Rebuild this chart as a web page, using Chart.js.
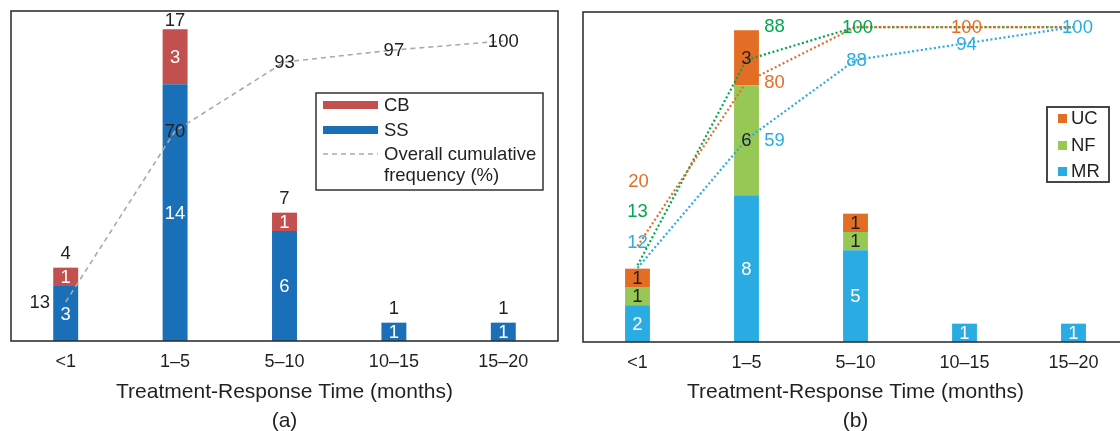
<!DOCTYPE html>
<html>
<head>
<meta charset="utf-8">
<script src="https://cdn.jsdelivr.net/npm/chart.js@4.4.1/dist/chart.umd.min.js"></script>
<style>
  html, body { margin: 0; padding: 0; background: #fff; overflow: hidden; width: 1120px; height: 431px; }
  #wrap { position: relative; width: 1120px; height: 431px; overflow: hidden; }
  #chartA { position: absolute; left: 0; top: 0; }
  #chartB { position: absolute; left: 560px; top: 0; }
</style>
</head>
<body>
<div id="wrap">
  <canvas id="chartA" width="560" height="431"></canvas>
  <canvas id="chartB" width="580" height="431"></canvas>
</div>
<script>
// Treatment-response time bins shared by both panels
const categories = ['<1', '1–5', '5–10', '10–15', '15–20'];

// Panel (a): counts per group and overall cumulative frequency (%)
const ssCounts = [3, 14, 6, 1, 1];
const cbCounts = [1, 3, 1, 0, 0];
const overallCumulative = [13, 70, 93, 97, 100];

// Panel (b): counts per group and cumulative frequency (%) per group
const mrCounts = [2, 8, 5, 1, 1];
const nfCounts = [1, 6, 1, 0, 0];
const ucCounts = [1, 3, 1, 0, 0];
const mrCumulative = [12, 59, 88, 94, 100];
const nfCumulative = [13, 88, 100, 100, 100];
const ucCumulative = [20, 80, 100, 100, 100];

const FONT = '"Liberation Sans", Arial, Helvetica, sans-serif';
const INK = '#231f20';
const COLORS = {
  SS: '#1a6fb9', CB: '#c1504e', cumulative: '#a9a9a9',
  MR: '#2aace2', NF: '#97c855', UC: '#e46d26',
  NFline: '#00a650'
};

// Outline around the plotting area
const framePlugin = {
  id: 'frame',
  afterDraw(chart) {
    const { ctx, chartArea: a } = chart;
    ctx.save();
    ctx.strokeStyle = '#333';
    ctx.lineWidth = 1.6;
    ctx.strokeRect(a.left, a.top, a.right - a.left, a.bottom - a.top);
    ctx.restore();
  }
};

// Segment values inside bars, optional stack totals, and cumulative-percentage labels
function valueLabels(cfg) {
  return {
    id: 'valueLabels',
    afterDatasetsDraw(chart) {
      const { ctx, chartArea: area } = chart;
      ctx.save();
      ctx.font = `18.5px ${FONT}`;
      ctx.textAlign = 'center';
      ctx.textBaseline = 'middle';
      const barMetas = [];
      chart.data.datasets.forEach((ds, di) => {
        const meta = chart.getDatasetMeta(di);
        if (meta.type === 'bar') {
          barMetas.push(meta);
          meta.data.forEach((el, i) => {
            const v = ds.data[i];
            if (!v) return;
            ctx.fillStyle = cfg.segmentColor[ds.label];
            ctx.fillText(String(v), el.x, (el.y + el.base) / 2 + 1);
          });
        } else {
          const p = cfg.lineLabels[ds.label];
          meta.data.forEach((el, i) => {
            if (!p.show[i]) return;
            ctx.fillStyle = p.color;
            ctx.fillText(String(ds.data[i]), el.x + p.dx[i], el.y + p.dy[i] + 1);
          });
        }
      });
      if (cfg.totals) {
        ctx.fillStyle = INK;
        categories.forEach((c, i) => {
          let sum = 0, top = Infinity, x = 0;
          barMetas.forEach(m => {
            const ds = chart.data.datasets[m.index];
            sum += ds.data[i];
            if (ds.data[i]) { top = Math.min(top, m.data[i].y); x = m.data[i].x; }
          });
          if (!sum) return;
          ctx.fillText(String(sum), x, Math.max(top - 14, area.top + 10));
        });
      }
      ctx.restore();
    }
  };
}

// Legend boxes drawn in the upper-right part of each plot
function legendBox(draw) {
  return { id: 'legendBox', afterDraw(chart) { const ctx = chart.ctx; ctx.save(); draw(ctx); ctx.restore(); } };
}

const legendA = legendBox(ctx => {
  ctx.fillStyle = '#fff';
  ctx.fillRect(316, 93, 227, 97);
  ctx.strokeStyle = '#333';
  ctx.lineWidth = 1.5;
  ctx.strokeRect(316, 93, 227, 97);
  ctx.fillStyle = COLORS.CB; ctx.fillRect(323, 101, 55, 8);
  ctx.fillStyle = COLORS.SS; ctx.fillRect(323, 126, 55, 8);
  ctx.strokeStyle = COLORS.cumulative; ctx.lineWidth = 1.6; ctx.setLineDash([5, 4]);
  ctx.beginPath(); ctx.moveTo(323, 154); ctx.lineTo(378, 154); ctx.stroke();
  ctx.setLineDash([]);
  ctx.fillStyle = INK; ctx.font = `18.5px ${FONT}`; ctx.textBaseline = 'middle'; ctx.textAlign = 'left';
  ctx.fillText('CB', 384, 106);
  ctx.fillText('SS', 384, 131);
  ctx.fillText('Overall cumulative', 384, 155);
  ctx.fillText('frequency (%)', 384, 176);
});

const legendB = legendBox(ctx => {
  ctx.fillStyle = '#fff';
  ctx.fillRect(487, 107, 62, 75);
  ctx.strokeStyle = '#333';
  ctx.lineWidth = 1.8;
  ctx.strokeRect(487, 107, 62, 75);
  ctx.font = `18.5px ${FONT}`; ctx.textBaseline = 'middle'; ctx.textAlign = 'left';
  [['UC', 118], ['NF', 145], ['MR', 171]].forEach(([name, y]) => {
    ctx.fillStyle = COLORS[name]; ctx.fillRect(498, y - 4, 9, 9);
    ctx.fillStyle = INK; ctx.fillText(name, 511, y + 1);
  });
});

function xAxis(title, height) {
  return {
    stacked: true,
    grid: { display: false, drawTicks: false },
    border: { display: false },
    ticks: { color: INK, font: { family: FONT, size: 18 }, padding: 10 },
    title: { display: true, text: [title[0], title[1]], color: INK,
             font: { family: FONT, size: 21, lineHeight: 29 / 21 }, padding: { top: 0, bottom: -4.5 } },
    afterFit(scale) { scale.height = height; }
  };
}

const common = {
  responsive: false, animation: false, devicePixelRatio: 1,
  datasets: { bar: { categoryPercentage: 1, barPercentage: 0.228, borderWidth: 0 } },
  plugins: { legend: { display: false }, tooltip: { enabled: false } }
};

// Panel (a)
new Chart(document.getElementById('chartA'), {
  type: 'bar',
  data: {
    labels: categories,
    datasets: [
      { type: 'line', label: 'Overall cumulative frequency (%)', data: overallCumulative, yAxisID: 'y2',
        borderColor: COLORS.cumulative, borderWidth: 1.6, borderDash: [5, 4], pointRadius: 0, tension: 0, fill: false, order: 0 },
      { label: 'SS', data: ssCounts, backgroundColor: COLORS.SS, stack: 's', order: 5 },
      { label: 'CB', data: cbCounts, backgroundColor: COLORS.CB, stack: 's', order: 5 }
    ]
  },
  options: {
    ...common,
    layout: { padding: { left: 11, right: 2, top: 11, bottom: 0 } },
    scales: {
      x: xAxis(['Treatment-Response Time (months)', '(a)'], 90),
      y: { stacked: true, min: 0, max: 18, display: false },
      y2: { min: 0, max: 110, display: false }
    }
  },
  plugins: [valueLabels({
    segmentColor: { SS: '#fff', CB: '#fff' },
    totals: true,
    lineLabels: {
      'Overall cumulative frequency (%)': { color: INK, show: [1, 1, 1, 1, 1], dx: [-26, 0, 0, 0, 0], dy: [0, 0, 0, 0, 0] }
    }
  }), framePlugin, legendA]
});

// Panel (b)
new Chart(document.getElementById('chartB'), {
  type: 'bar',
  data: {
    labels: categories,
    datasets: [
      { label: 'MR', data: mrCounts, backgroundColor: COLORS.MR, stack: 's', order: 10 },
      { label: 'NF', data: nfCounts, backgroundColor: COLORS.NF, stack: 's', order: 10 },
      { label: 'UC', data: ucCounts, backgroundColor: COLORS.UC, stack: 's', order: 10 },
      { type: 'line', label: 'NF cumulative', data: nfCumulative, yAxisID: 'y2', borderColor: COLORS.NFline,
        borderWidth: 2.2, borderDash: [2, 2.4], pointRadius: 0, tension: 0, fill: false, order: 3 },
      { type: 'line', label: 'UC cumulative', data: ucCumulative, yAxisID: 'y2', borderColor: COLORS.UC,
        borderWidth: 2.2, borderDash: [2, 2.4], pointRadius: 0, tension: 0, fill: false, order: 2 },
      { type: 'line', label: 'MR cumulative', data: mrCumulative, yAxisID: 'y2', borderColor: COLORS.MR,
        borderWidth: 2.2, borderDash: [2, 2.4], pointRadius: 0, tension: 0, fill: false, order: 1 }
    ]
  },
  options: {
    ...common,
    layout: { padding: { left: 23, right: 12, top: 12, bottom: 0 } },
    scales: {
      x: xAxis(['Treatment-Response Time (months)', '(b)'], 89),
      y: { stacked: true, min: 0, max: 18, display: false },
      y2: { min: -15, max: 105.5, display: false }
    }
  },
  plugins: [valueLabels({
    segmentColor: { MR: '#fff', NF: INK, UC: INK },
    totals: false,
    lineLabels: {
      'NF cumulative': { color: COLORS.NFline, show: [1, 1, 1, 0, 0], dx: [0, 28, 2, 0, 0], dy: [-54, -34, 0, 0, 0] },
      'UC cumulative': { color: COLORS.UC, show: [1, 1, 0, 1, 0], dx: [1, 28, 0, 2, 0], dy: [-65, 0, 0, 0, 0] },
      'MR cumulative': { color: COLORS.MR, show: [1, 1, 1, 1, 1], dx: [0, 28, 1, 2, 4], dy: [-26, 1, 0, 0, 0] }
    }
  }), framePlugin, legendB]
});
</script>
</body>
</html>
